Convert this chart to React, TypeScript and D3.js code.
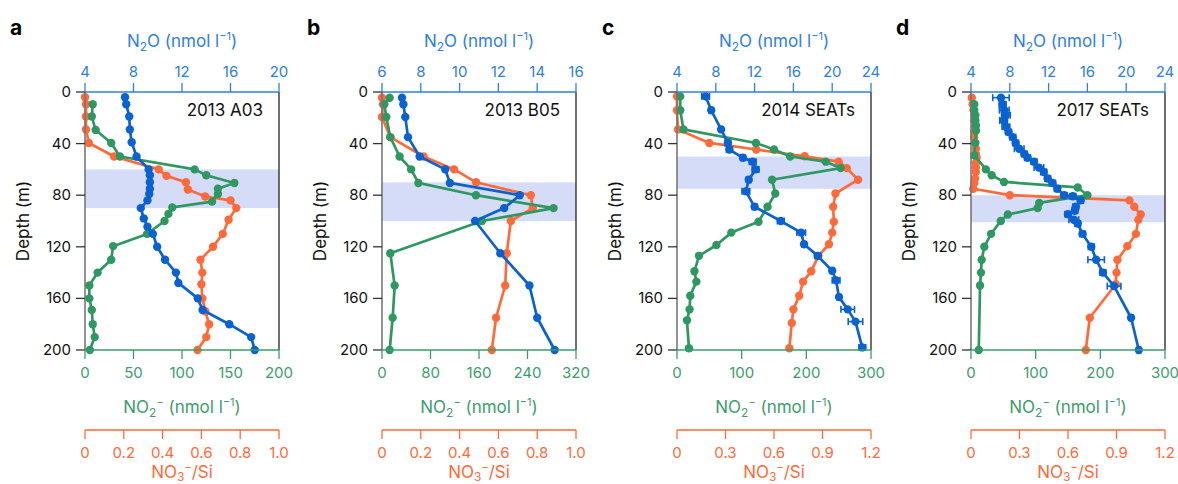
import React from 'react'
import * as d3 from 'd3'

// ---- data (depth in m) ----
const panelLetters = ['a', 'b', 'c', 'd']
const stationNames = ['2013 A03', '2013 B05', '2014 SEATs', '2017 SEATs']

const n2oDomains = [[4, 20], [6, 16], [4, 24], [4, 24]]
const n2oTicks = [[4, 8, 12, 16, 20], [6, 8, 10, 12, 14, 16], [4, 8, 12, 16, 20, 24], [4, 8, 12, 16, 20, 24]]
const no2Domains = [[0, 200], [0, 320], [0, 300], [0, 300]]
const no2Ticks = [[0, 50, 100, 150, 200], [0, 80, 160, 240, 320], [0, 100, 200, 300], [0, 100, 200, 300]]
const ratioDomains = [[0, 1], [0, 1], [0, 1.2], [0, 1.2]]
const ratioTicks = [[0, 0.2, 0.4, 0.6, 0.8, 1.0], [0, 0.2, 0.4, 0.6, 0.8, 1.0], [0, 0.3, 0.6, 0.9, 1.2], [0, 0.3, 0.6, 0.9, 1.2]]
const depthTicks = [0, 40, 80, 120, 160, 200]
const bands = [[60, 90], [70, 100], [50, 75], [80, 101]]

// panel a
const n2oDepthA = [4, 9.5, 19, 29, 39, 50, 60, 64.5, 70, 75, 79, 84, 90, 98, 104.5, 110, 120, 130, 140, 148, 160, 169, 180, 190, 200]
const n2oA = [7.3, 7.4, 7.65, 7.7, 7.85, 8.25, 9.25, 9.35, 9.35, 9.35, 9.3, 9.15, 8.6, 8.85, 9.15, 9.6, 9.95, 10.6, 11.5, 11.7, 13.3, 13.7, 15.9, 17.7, 18.0]
const ratioDepthA = [4, 9.5, 19, 29, 39.5, 50, 60, 65, 70, 75.6, 81, 84, 90, 99, 110, 120, 130, 140, 149, 160, 170, 180, 190, 200]
const ratioA = [0, 0.005, 0.005, 0.005, 0.02, 0.15, 0.38, 0.42, 0.52, 0.53, 0.62, 0.75, 0.78, 0.74, 0.71, 0.66, 0.595, 0.605, 0.6, 0.605, 0.62, 0.64, 0.625, 0.58]
const no2DepthA = [9.5, 19, 29.5, 39.5, 50, 60, 64.5, 70.5, 75, 79, 85, 89.5, 94.5, 100, 110, 119.5, 130, 140, 150, 160, 169, 180, 190, 200]
const no2A = [8, 7, 11, 27, 36, 113, 125, 154, 137, 137, 131, 90, 86, 82, 64, 29, 27, 13, 4.5, 4.5, 7, 8, 10, 5]

// panel b
const n2oDepthB = [4.4, 9.5, 19.4, 35, 50, 60, 70.5, 80, 90, 100, 125, 150, 175, 200]
const n2oB = [7.03, 7.1, 7.2, 7.34, 7.94, 9.26, 9.5, 13.1, 12.3, 10.8, 12.1, 13.6, 14.0, 14.9]
const ratioDepthB = [4.4, 9.5, 19.4, 35, 50, 60, 70, 80, 90, 100, 125, 150, 175, 200]
const ratioB = [0, 0.005, 0, 0.043, 0.214, 0.372, 0.485, 0.767, 0.777, 0.664, 0.643, 0.635, 0.588, 0.566]
const no2DepthB = [4.4, 9.5, 19.4, 35, 50, 60, 70.5, 80, 90, 100, 125, 150, 175, 200]
const no2B = [12.6, 3.8, 7.1, 13.7, 29, 48, 60, 155, 283, 165, 13.7, 20.9, 17.6, 12.6]

// panel c
const n2oDepthC = [3.4, 14.2, 29, 39.5, 44.6, 51, 54, 60, 68, 77, 89, 100, 109, 118, 127, 138.6, 146, 159, 168.5, 178, 198]
const n2oC = [6.95, 7.53, 8.55, 9.24, 9.4, 10.8, 11.8, 12.1, 11.4, 11.1, 12.0, 14.7, 16.8, 17.1, 18.5, 20.0, 20.4, 20.7, 21.6, 22.4, 23.1]
const n2oErrC = [0.4, 0.2, 0.15, 0.3, 0.3, 0.25, 0.35, 0.35, 0.25, 0.4, 0.25, 0.35, 0.45, 0.2, 0.3, 0.2, 0.4, 0.2, 0.7, 0.75, 0.35]
const ratioDepthC = [3.4, 14.2, 29, 39.5, 44.6, 49.8, 54, 59, 68, 78.7, 89, 100.6, 109, 118, 127, 139, 147, 158, 168.5, 179, 198.7]
const ratioC = [0, 0, 0.006, 0.2, 0.49, 0.79, 1.0, 1.05, 1.12, 0.98, 0.966, 0.97, 0.96, 0.94, 0.875, 0.83, 0.78, 0.756, 0.72, 0.71, 0.695]
const no2DepthC = [3.4, 14.2, 29, 39.5, 44.6, 50, 54, 59, 68, 78.7, 89, 100.6, 109, 118.6, 127, 139, 147, 158, 168.5, 177, 198.7]
const no2C = [5, 5, 10, 122, 150, 175, 230, 253, 147, 152, 140, 126, 84, 61, 34, 27, 30, 20.5, 19.5, 15.4, 18.5]

// panel d
const n2oDepthD = [4.4, 9.5, 14, 18, 22, 27, 31, 35, 39.5, 44, 48, 51, 54, 58.6, 62, 67, 70.5, 75, 80, 80.8, 84, 89, 92, 94.7, 99, 102, 110, 120, 130, 140, 150.5, 175, 200]
const n2oD = [7.09, 7.26, 7.43, 7.6, 7.36, 7.6, 7.87, 8.3, 8.6, 8.97, 9.5, 9.83, 10.5, 11.0, 11.5, 11.9, 12.4, 12.9, 13.6, 14.5, 15.3, 14.8, 14.7, 14.0, 14.6, 15.0, 15.5, 16.4, 16.9, 17.6, 18.75, 20.5, 21.3]
const n2oErrD = [0.85, 0.35, 0.5, 0.45, 0.4, 0.4, 0.3, 0.3, 0.3, 0.5, 0.3, 0.3, 0.3, 0.5, 0.3, 0.3, 0.3, 0.3, 0.3, 0.3, 0.3, 0.3, 0.3, 0.3, 0.5, 0.3, 0.3, 0.3, 0.85, 0.3, 0.7, 0.2, 0.2]
const ratioDepthD = [4.4, 9.5, 14, 18, 22, 27, 31, 35, 39.5, 44, 48, 51, 55, 58.6, 62, 67, 70.5, 75, 80, 84, 89, 95, 99, 110, 119.5, 130, 140, 149, 175, 200]
const ratioD = [0.005, 0.01, 0.015, 0.02, 0.02, 0.025, 0.02, 0.02, 0.025, 0.03, 0.03, 0.035, 0.03, 0.03, 0.03, 0.025, 0.02, 0.014, 0.24, 0.98, 1.01, 1.05, 1.035, 1.02, 0.967, 0.906, 0.9, 0.895, 0.735, 0.71]
const no2DepthD = [9.5, 14, 18, 22, 26, 30, 39.5, 49, 60, 64.5, 69.7, 74, 80, 86, 90, 95, 100, 110, 120, 130, 140, 150, 200]
const no2D = [5, 5, 6.7, 6.7, 7.7, 7.7, 6.7, 5, 23, 32, 51, 165, 180, 105.5, 103, 57, 46, 31, 20.6, 16.5, 15.4, 14, 12]

const n2oDepths = [n2oDepthA, n2oDepthB, n2oDepthC, n2oDepthD]
const n2oVals = [n2oA, n2oB, n2oC, n2oD]
const n2oErrs = [null, null, n2oErrC, n2oErrD]
const ratioDepths = [ratioDepthA, ratioDepthB, ratioDepthC, ratioDepthD]
const ratioVals = [ratioA, ratioB, ratioC, ratioD]
const no2Depths = [no2DepthA, no2DepthB, no2DepthC, no2DepthD]
const no2Vals = [no2A, no2B, no2C, no2D]

// ---- styling ----
const BLUE = '#0a62d0'
const BLUE_AX = '#2f80da'
const GREEN = '#2f9862'
const GREEN_AX = '#3d9c6c'
const ORANGE = '#ff6a3a'
const BAND = '#d5dcf8'
const FONT = 'Inter, "Noto Sans", sans-serif'
const R = 4.2

const lefts = [85, 382, 677, 971]
const plotW = 194
const top = 92
const bottom = 350
const ratioAxisY = 430

const fmtRatio = (v: number) => (v === 0 ? '0' : v.toFixed(1))

// one profile: line + dots
const Profile = ({ xs, ys, color }: { xs: number[]; ys: number[]; color: string }) => {
  const pts: [number, number][] = xs.map((v, k) => [v, ys[k]])
  return (
    <g>
      <path d={d3.line()(pts) || ''} fill="none" stroke={color} strokeWidth={2.7} strokeLinejoin="round" />
      {pts.map((p, k) => <circle key={k} cx={p[0]} cy={p[1]} r={R} fill={color} />)}
    </g>
  )
}

const Panel = ({ i }: { i: number }) => {
  const left = lefts[i]
  const right = left + plotW
  const y = d3.scaleLinear().domain([0, 200]).range([top, bottom])
  const xN2o = d3.scaleLinear().domain(n2oDomains[i]).range([left, right])
  const xNo2 = d3.scaleLinear().domain(no2Domains[i]).range([left, right])
  const xRatio = d3.scaleLinear().domain(ratioDomains[i]).range([left, right])
  const cx = (left + right) / 2
  const errs = n2oErrs[i]

  return (
    <g fontFamily={FONT}>
      <text x={left - 75} y={35} fontSize={21} fontWeight={700} fill="#000">{panelLetters[i]}</text>

      {/* suboxic band */}
      <rect x={left} y={y(bands[i][0])} width={plotW} height={y(bands[i][1]) - y(bands[i][0])} fill={BAND} />

      <Profile xs={ratioVals[i].map(v => xRatio(v))} ys={ratioDepths[i].map(d => y(d))} color={ORANGE} />
      <Profile xs={no2Vals[i].map(v => xNo2(v))} ys={no2Depths[i].map(d => y(d))} color={GREEN} />
      {errs && n2oVals[i].map((v, k) => {
        const yy = y(n2oDepths[i][k])
        const a = xN2o(v - errs[k]), b = xN2o(v + errs[k])
        return (
          <g key={k} stroke={BLUE} strokeWidth={1.6}>
            <line x1={a} x2={b} y1={yy} y2={yy} />
            <line x1={a} x2={a} y1={yy - 3.5} y2={yy + 3.5} />
            <line x1={b} x2={b} y1={yy - 3.5} y2={yy + 3.5} />
          </g>
        )
      })}
      <Profile xs={n2oVals[i].map(v => xN2o(v))} ys={n2oDepths[i].map(d => y(d))} color={BLUE} />

      {/* frame + depth axis */}
      <line x1={right} x2={right} y1={top} y2={bottom} stroke="#222" strokeWidth={1.3} />
      <line x1={left} x2={left} y1={top} y2={bottom} stroke="#777" strokeWidth={1.6} />
      {depthTicks.map(t => (
        <g key={t}>
          <line x1={left - 9} x2={left} y1={y(t)} y2={y(t)} stroke="#333" strokeWidth={1.3} />
          <text x={left - 14} y={y(t) + 5} fontSize={15} textAnchor="end" fill="#111">{t}</text>
        </g>
      ))}
      <text transform={`translate(${left - 56},${(top + bottom) / 2}) rotate(-90)`} textAnchor="middle" fontSize={17} fill="#111">Depth (m)</text>

      {/* top N2O axis */}
      <line x1={left} x2={right} y1={top} y2={top} stroke={BLUE_AX} strokeWidth={1.5} />
      {n2oTicks[i].map(t => (
        <g key={t}>
          <line x1={xN2o(t)} x2={xN2o(t)} y1={top - 9} y2={top} stroke={BLUE_AX} strokeWidth={1.3} />
          <text x={xN2o(t)} y={top - 15} fontSize={15} textAnchor="middle" fill={BLUE_AX}>{t}</text>
        </g>
      ))}
      <text x={cx} y={47} fontSize={17} textAnchor="middle" fill={BLUE_AX}>
        N<tspan fontSize={12} dy={4}>2</tspan><tspan dy={-4}>O (nmol l</tspan><tspan fontSize={11} dy={-7}>−1</tspan><tspan dy={7}>)</tspan>
      </text>
      <text x={right - 16} y={116} fontSize={17} textAnchor="end" fill="#111">{stationNames[i]}</text>

      {/* bottom NO2 axis */}
      <line x1={left} x2={right} y1={bottom} y2={bottom} stroke={GREEN_AX} strokeWidth={1.5} />
      {no2Ticks[i].map(t => (
        <g key={t}>
          <line x1={xNo2(t)} x2={xNo2(t)} y1={bottom} y2={bottom + 9} stroke={GREEN_AX} strokeWidth={1.3} />
          <text x={xNo2(t)} y={bottom + 28} fontSize={15} textAnchor="middle" fill={GREEN_AX}>{t}</text>
        </g>
      ))}
      <text x={cx} y={413} fontSize={17} textAnchor="middle" fill={GREEN_AX}>
        NO<tspan fontSize={12} dy={4}>2</tspan><tspan fontSize={11} dy={-11}>−</tspan><tspan dy={7}> (nmol l</tspan><tspan fontSize={11} dy={-7}>−1</tspan><tspan dy={7}>)</tspan>
      </text>

      {/* NO3-/Si axis */}
      <line x1={left} x2={right} y1={ratioAxisY} y2={ratioAxisY} stroke={ORANGE} strokeWidth={1.5} />
      {ratioTicks[i].map(t => (
        <g key={t}>
          <line x1={xRatio(t)} x2={xRatio(t)} y1={ratioAxisY} y2={ratioAxisY + 9} stroke={ORANGE} strokeWidth={1.3} />
          <text x={xRatio(t)} y={ratioAxisY + 28} fontSize={15} textAnchor="middle" fill={ORANGE}>{fmtRatio(t)}</text>
        </g>
      ))}
      <text x={cx} y={478} fontSize={17} textAnchor="middle" fill={ORANGE}>
        NO<tspan fontSize={12} dy={3}>3</tspan><tspan fontSize={11} dy={-10}>−</tspan><tspan dy={7}>/Si</tspan>
      </text>
    </g>
  )
}

export default function App() {
  return (
    <svg width={1178} height={484} style={{ position: 'absolute', left: 0, top: 0, background: '#fff' }}>
      {[0, 1, 2, 3].map(i => <Panel key={i} i={i} />)}
    </svg>
  )
}
